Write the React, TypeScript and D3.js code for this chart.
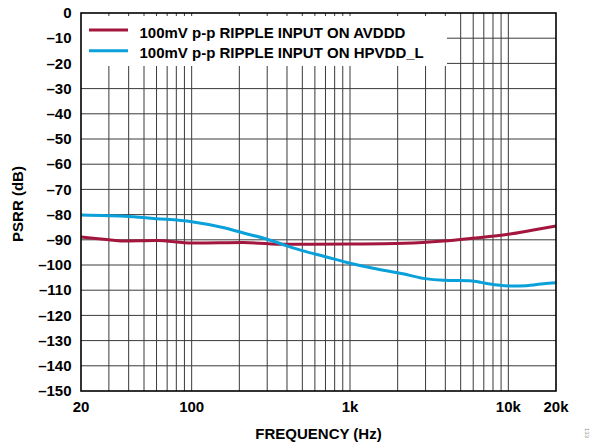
import React from "react";
import * as d3 from "d3";

const avdddFreq = [20, 30, 36, 60, 100, 150, 210, 400, 1000, 2200, 3900, 5900, 10000, 14400, 20000];
const avdddDb = [-88.9, -90.0, -90.5, -90.3, -91.3, -91.2, -91.1, -91.8, -91.7, -91.4, -90.5, -89.4, -87.8, -86.1, -84.5];

const hpvddFreq = [20, 40, 60, 100, 160, 210, 300, 400, 500, 700, 1000, 1400, 2200, 2900, 3900, 5900, 6700, 8500, 10300, 13000, 16700, 20000];
const hpvddDb = [-80.2, -80.8, -81.6, -82.8, -85.2, -87.2, -89.8, -92.4, -94.3, -96.7, -99.3, -101.3, -103.6, -105.3, -106.1, -106.3, -106.9, -107.9, -108.3, -108.2, -107.4, -107.0];

const xTickValues = [20, 100, 1000, 10000, 20000];
const xTickLabels = ["20", "100", "1k", "10k", "20k"];
const yTickValues = [0, -10, -20, -30, -40, -50, -60, -70, -80, -90, -100, -110, -120, -130, -140, -150];
const legendLabels = ["100mV p-p RIPPLE INPUT ON AVDDD", "100mV p-p RIPPLE INPUT ON HPVDD_L"];
const seriesColors = ["#A3173F", "#0AA0DA"];

const W = 592;
const H = 446;
const L = 81;
const R = 556;
const T = 13;
const B = 391;
const FONT = "'Liberation Sans', Arial, Helvetica, sans-serif";

export default function App() {
  const x = d3.scaleLog().domain([20, 20000]).range([L, R]);
  const y = d3.scaleLinear().domain([0, -150]).range([T, B]);

  const gridX: number[] = [];
  for (let dec = 10; dec <= 10000; dec *= 10) {
    for (let m = 1; m <= 9; m++) {
      const f = dec * m;
      if (f > 20 && f < 20000) gridX.push(f);
    }
  }
  const gridY = yTickValues.filter((v) => v !== 0 && v !== -150);

  const line = d3
    .line<[number, number]>()
    .x((d) => x(d[0]))
    .y((d) => y(d[1]))
    .curve(d3.curveMonotoneX);

  const series = [
    avdddFreq.map((f, i) => [f, avdddDb[i]] as [number, number]),
    hpvddFreq.map((f, i) => [f, hpvddDb[i]] as [number, number]),
  ];

  return (
    <svg width={W} height={H} style={{ position: "absolute", left: 0, top: 0, background: "#fff" }} fontFamily={FONT}>
      <rect x={0} y={0} width={W} height={H} fill="#fff" />
      {gridX.map((f) => (
        <line key={"gx" + f} x1={x(f)} x2={x(f)} y1={T} y2={B} stroke="#3a3a3a" strokeWidth={1} />
      ))}
      {gridY.map((v) => (
        <line key={"gy" + v} x1={L} x2={R} y1={y(v)} y2={y(v)} stroke="#3a3a3a" strokeWidth={1} />
      ))}
      {/* legend background */}
      <rect x={L} y={16} width={447 - L} height={50} fill="#fff" />
      {legendLabels.map((lab, i) => (
        <g key={lab}>
          <line x1={89} x2={128} y1={30 + i * 20.7} y2={30 + i * 20.7} stroke={seriesColors[i]} strokeWidth={3} />
          <text x={139.5} y={37.5 + i * 20.7} fontSize={15} fontWeight="bold" fill="#000">
            {lab}
          </text>
        </g>
      ))}
      {series.map((s, i) => (
        <path key={"s" + i} d={line(s) || ""} fill="none" stroke={seriesColors[i]} strokeWidth={3} />
      ))}
      <rect x={L} y={T} width={R - L} height={B - T} fill="none" stroke="#000" strokeWidth={1.6} />
      {yTickValues.map((v) => (
        <text key={"yt" + v} x={71.5} y={y(v) + 5.2} textAnchor="end" fontSize={15} fontWeight="bold" fill="#000">
          {v === 0 ? "0" : "–" + Math.abs(v)}
        </text>
      ))}
      {xTickValues.map((v, i) => (
        <text key={"xt" + v} x={x(v)} y={412} textAnchor="middle" fontSize={15} fontWeight="bold" fill="#000">
          {xTickLabels[i]}
        </text>
      ))}
      <text x={(L + R) / 2} y={439} textAnchor="middle" fontSize={15} fontWeight="bold" fill="#000">
        FREQUENCY (Hz)
      </text>
      <text
        transform={`translate(23,204) rotate(-90)`}
        textAnchor="middle"
        fontSize={15}
        fontWeight="bold"
        fill="#000"
      >
        PSRR (dB)
      </text>
      <text transform="translate(585,428) rotate(90)" fontSize={6} fill="#888">
        133
      </text>
    </svg>
  );
}
